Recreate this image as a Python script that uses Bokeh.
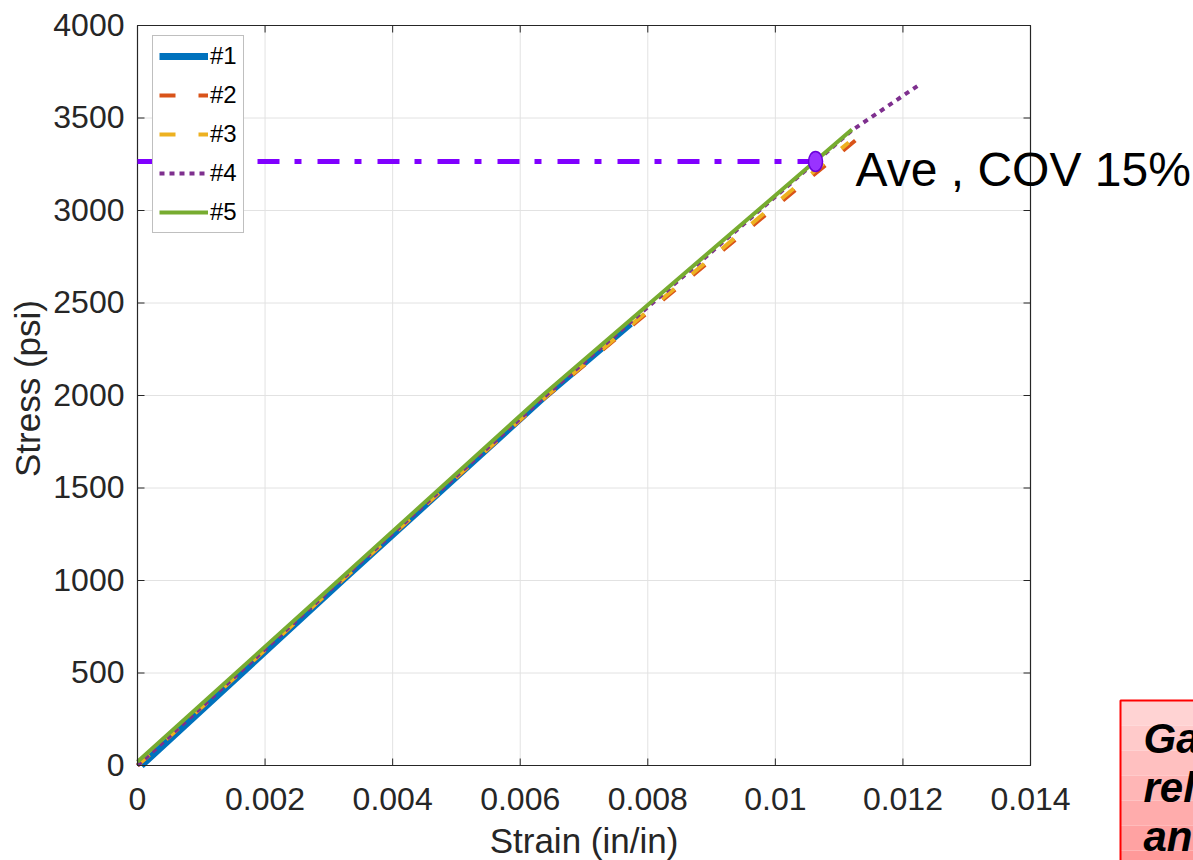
import math
from bokeh.plotting import figure
from bokeh.models import Range1d, Legend, LegendItem
from bokeh.core.properties import value
from bokeh.embed import file_html
from bokeh.resources import INLINE

# ---- data ----
series_names = ["#1", "#2", "#3", "#4", "#5"]
strain_1 = [0.00006, 0.00321, 0.0064, 0.00773]
stress_1 = [0, 1000, 2000, 2389]
strain_2 = [0.0, 0.0032, 0.00643, 0.01129]
stress_2 = [0, 1000, 2000, 3389]
strain_3 = [0.0, 0.0032, 0.00642, 0.01115]
stress_3 = [0, 1000, 2000, 3368]
strain_4 = [0.0, 0.00318, 0.0064, 0.0112, 0.01224]
stress_4 = [0, 1000, 2000, 3433, 3676]
strain_5 = [0.0, 0.00315, 0.00635, 0.0112]
stress_5 = [20, 1000, 2000, 3438]

ave_strain = 0.01063
ave_stress = 3265
ave_text = "Ave , COV 15%"

x_ticks = [0.0, 0.002, 0.004, 0.006, 0.008, 0.01, 0.012, 0.014]
x_tick_labels = ["0", "0.002", "0.004", "0.006", "0.008", "0.01", "0.012", "0.014"]
y_ticks = [0, 500, 1000, 1500, 2000, 2500, 3000, 3500, 4000]
y_tick_labels = ["0", "500", "1000", "1500", "2000", "2500", "3000", "3500", "4000"]
x_label = "Strain (in/in)"
y_label = "Stress (psi)"

note_lines = ["Ga", "rel", "an"]

# ---- layout / style constants (pixels) ----
FONT = value("Liberation Sans")
AX = "#262626"
GRID = "#e2e2e2"
W, H = 1193, 860
BOX_L, BOX_T = 137, 25                  # plot box top-left on the page
BOX_W, BOX_H = 893, 740                 # plot box size
X_MAX, Y_MAX = x_ticks[-1], y_ticks[-1]
PXX = BOX_W / X_MAX                     # pixels per strain unit
PXY = BOX_H / Y_MAX                     # pixels per psi
TICK = 7


def dx(px):   # horizontal pixel distance -> strain units
    return px / PXX


def dy(px):   # vertical pixel distance -> psi
    return px / PXY


x_start = -dx(BOX_L)
x_end = dx(W - BOX_L)
y_end = Y_MAX + dy(BOX_T)
y_start = y_end - dy(H)

p = figure(width=W, height=H, min_border=0,
           x_range=Range1d(x_start, x_end), y_range=Range1d(y_start, y_end),
           x_axis_location=None, y_axis_location=None,
           output_backend="svg", toolbar_location=None,
           background_fill_color="white", border_fill_color="white")
p.outline_line_color = None
p.xgrid.visible = False
p.ygrid.visible = False

n, m = len(x_ticks), len(y_ticks)

# grid lines inside the plot box
p.segment(x0=x_ticks, y0=[0] * n, x1=x_ticks, y1=[Y_MAX] * n, line_color=GRID, line_width=1)
p.segment(x0=[0] * m, y0=y_ticks, x1=[X_MAX] * m, y1=y_ticks, line_color=GRID, line_width=1)

# ---- series ----
r1 = p.line(strain_1, stress_1, line_color="#0072BD", line_width=7)
r2 = p.line(strain_2, stress_2, line_color="#D95319", line_width=4, line_dash="16 23")
r3 = p.line(strain_3, stress_3, line_color="#EDB120", line_width=4, line_dash="16 23")
r4 = p.line(strain_4, stress_4, line_color="#7E2F8E", line_width=4, line_dash="5 5")
r5 = p.line(strain_5, stress_5, line_color="#77AC30", line_width=4)

# plot box and ticks on all four sides
p.line([0, X_MAX, X_MAX, 0, 0], [0, 0, Y_MAX, Y_MAX, 0], line_color=AX, line_width=1.2)
p.segment(x0=x_ticks, y0=[0] * n, x1=x_ticks, y1=[dy(TICK)] * n, line_color=AX, line_width=1)
p.segment(x0=x_ticks, y0=[Y_MAX] * n, x1=x_ticks, y1=[Y_MAX - dy(TICK)] * n, line_color=AX, line_width=1)
p.segment(x0=[0] * m, y0=y_ticks, x1=[dx(TICK)] * m, y1=y_ticks, line_color=AX, line_width=1)
p.segment(x0=[X_MAX] * m, y0=y_ticks, x1=[X_MAX - dx(TICK)] * m, y1=y_ticks, line_color=AX, line_width=1)

# tick labels and axis labels (vertical anchor = middle of the text)
p.text(x=x_ticks, y=[-dy(33)] * n, text=x_tick_labels, text_align="center",
       text_baseline="middle", text_font=FONT, text_font_size="32px", text_color=AX)
p.text(x=[-dx(13)] * m, y=[t + dy(1) for t in y_ticks], text=y_tick_labels, text_align="right",
       text_baseline="middle", text_font=FONT, text_font_size="32px", text_color=AX)
p.text(x=[X_MAX / 2], y=[-dy(75)], text=[x_label], text_align="center",
       text_baseline="middle", text_font=FONT, text_font_size="35px", text_color=AX)
p.text(x=[-dx(110)], y=[Y_MAX / 2 + dy(7)], text=[y_label], angle=math.pi / 2,
       text_align="center", text_baseline="middle", text_font=FONT,
       text_font_size="35px", text_color=AX)

# average line, point and note
p.line([0, ave_strain], [ave_stress, ave_stress], line_color="#8000FF", line_width=5,
       line_dash="22 15 7 16")
p.ellipse(x=[ave_strain], y=[ave_stress], width=dx(14), height=dy(20),
          fill_color="#9933FF", line_color="#6A00D9", line_width=1.5)
p.text(x=[ave_strain + dx(40)], y=[ave_stress - dy(8)], text=[ave_text], text_align="left",
       text_baseline="middle", text_font=FONT, text_font_size="48px", text_color="black")

legend = Legend(items=[LegendItem(label=nm, renderers=[r]) for nm, r in
                       zip(series_names, [r1, r2, r3, r4, r5])],
                location=(152, 627), margin=0, padding=6, spacing=11,
                glyph_width=49, glyph_height=28, label_height=28, label_standoff=2,
                label_text_font="Liberation Sans", label_text_font_size="24px",
                label_text_color="black",
                border_line_color="#808080", border_line_width=1.5,
                background_fill_color="white", background_fill_alpha=1)
p.add_layout(legend)

# ---- red note box at bottom right (runs off the page) ----
band_colors = ["#ffd3d3", "#ffcaca", "#ffc0c0", "#ffb6b6", "#ffacac", "#ffa2a2", "#ff9999", "#ff9090"]
box_left = X_MAX + dx(90)
box_top = dy(65)
box_bottom = y_start - dy(40)
box_right = x_end + dx(40)
k = len(band_colors)
step = (box_top - box_bottom) / k
p.quad(left=[box_left] * k, right=[box_right] * k,
       top=[box_top - i * step for i in range(k)],
       bottom=[box_top - (i + 1) * step for i in range(k)],
       fill_color=band_colors, line_color=None)
p.quad(left=[box_left], right=[box_right], top=[box_top], bottom=[box_bottom],
       fill_alpha=0, line_color="#ff0000", line_width=2)
p.text(x=[box_left + dx(23)] * len(note_lines),
       y=[dy(27.5 - 49 * i) for i in range(len(note_lines))],
       text=note_lines, text_align="left", text_baseline="middle",
       text_font=FONT, text_font_size="42px", text_font_style="bold italic", text_color="black")

open("out.html", "w").write(file_html(p, INLINE))
